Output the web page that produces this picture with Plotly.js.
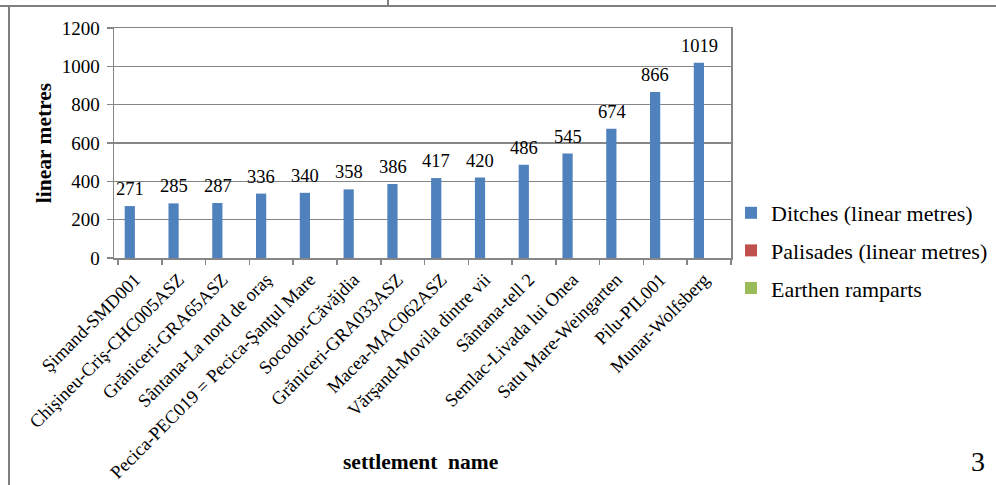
<!DOCTYPE html>
<html>
<head>
<meta charset="utf-8">
<script src="https://cdn.plot.ly/plotly-3.0.1.min.js"></script>
<style>
  html, body { margin: 0; padding: 0; background: #fff; }
  #wrap { position: relative; width: 996px; height: 485px; overflow: hidden; }
  #chart { position: absolute; left: 0; top: 0; width: 996px; height: 485px; }
  .ln { position: absolute; background: #7f7f7f; }
</style>
</head>
<body>
<div id="wrap">
  <div id="chart"></div>
  <div class="ln" style="left:0;top:5px;width:996px;height:2px;"></div>
  <div class="ln" style="left:387px;top:0;width:2px;height:6px;"></div>
  <div class="ln" style="left:8px;top:6px;width:2px;height:479px;"></div>
</div>
<script>
const categories = [
  "Şimand-SMD001",
  "Chişineu-Criş-CHC005ASZ",
  "Grăniceri-GRA65ASZ",
  "Sântana-La nord de oraş",
  "Pecica-PEC019 = Pecica-Şanţul Mare",
  "Socodor-Căvăjdia",
  "Grăniceri-GRA033ASZ",
  "Macea-MAC062ASZ",
  "Vărşand-Movila dintre vii",
  "Sântana-tell 2",
  "Semlac-Livada lui Onea",
  "Satu Mare-Weingarten",
  "Pilu-PIL001",
  "Munar-Wolfsberg"
];
const ditches = [271, 285, 287, 336, 340, 358, 386, 417, 420, 486, 545, 674, 866, 1019];
const palisades = [null, null, null, null, null, null, null, null, null, null, null, null, null, null];
const ramparts = [null, null, null, null, null, null, null, null, null, null, null, null, null, null];
const yTicks = [0, 200, 400, 600, 800, 1000, 1200];

const serif = "Liberation Serif, Times New Roman, serif";
const gray = "#868686";

const traces = [
  {type: "bar", name: "Ditches (linear metres)", x: categories, y: ditches,
   marker: {color: "#4F81BD"}, legendgroup: "a", hoverinfo: "x+y"},
  {type: "bar", name: "Palisades (linear metres)", x: categories, y: palisades,
   marker: {color: "#C0504D"}, legendgroup: "b"},
  {type: "bar", name: "Earthen ramparts", x: categories, y: ramparts,
   marker: {color: "#9BBB59"}, legendgroup: "c"}
];

const labelAnns = categories.map((c, i) => ({
  x: c, y: ditches[i], xref: "x", yref: "y",
  text: String(ditches[i]), showarrow: false,
  xanchor: "center", yanchor: "bottom", xshift: -10, yshift: 5,
  font: {family: serif, size: 18.5, color: "#000"}
}));

const layout = {
  width: 996, height: 485,
  margin: {l: 114, r: 265, t: 28, b: 227, pad: 0, autoexpand: false},
  paper_bgcolor: "rgba(0,0,0,0)", plot_bgcolor: "#fff",
  barmode: "group", bargap: 0.30, bargroupgap: 0,
  font: {family: serif, size: 18, color: "#000"},
  showlegend: true,
  legend: {x: 1.0, xanchor: "left", y: 0.287, yanchor: "top",
           font: {family: serif, size: 22, color: "#000"},
           traceorder: "grouped", tracegroupgap: 6, itemwidth: 30,
           bgcolor: "rgba(0,0,0,0)"},
  xaxis: {type: "category", showgrid: false, showline: true, linecolor: gray, linewidth: 1.5,
          mirror: true, ticks: "outside", tickson: "boundaries", ticklen: 5, tickcolor: gray,
          tickwidth: 1.5, tickangle: -45, automargin: false,
          ticklabelshift: -5, ticklabelstandoff: 2,
          tickfont: {family: serif, size: 18.5, color: "#000"}},
  yaxis: {range: [0, 1200], tickvals: yTicks, showgrid: true, gridcolor: gray, gridwidth: 1.5,
          showline: true, linecolor: gray, linewidth: 1.5, mirror: true, zeroline: false,
          ticks: "outside", ticklen: 6, tickcolor: gray, tickwidth: 1.5, automargin: false,
          ticklabelstandoff: 3,
          tickfont: {family: serif, size: 19, color: "#000"},
          title: {text: "<b>linear metres</b>", font: {family: serif, size: 21.5, color: "#000"}, standoff: 4}},
  annotations: labelAnns.concat([
    {xref: "paper", yref: "paper", x: 0.496, y: -0.885, xanchor: "center", yanchor: "middle",
     text: "<b>settlement  name</b>", showarrow: false,
     font: {family: serif, size: 21.5, color: "#000"}},
    {xref: "paper", yref: "paper", x: 1.40, y: -0.885, xanchor: "center", yanchor: "middle",
     text: "3", showarrow: false, font: {family: serif, size: 28, color: "#000"}}
  ])
};

Plotly.newPlot("chart", traces, layout, {displayModeBar: false, staticPlot: true});
</script>
</body>
</html>
